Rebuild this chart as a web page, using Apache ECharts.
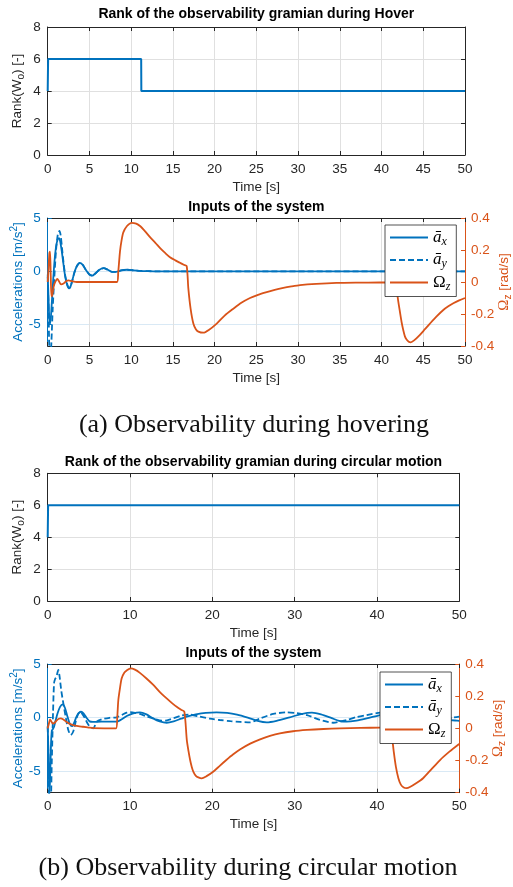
<!DOCTYPE html>
<html>
<head>
<meta charset="utf-8">
<script src="https://cdn.jsdelivr.net/npm/echarts@6/dist/echarts.min.js"></script>
<style>
html,body{margin:0;padding:0;background:#fff;}
#chart{width:513px;height:887px;}
</style>
</head>
<body>
<div id="chart"></div>
<script>
// ---- data: [time s, value] ----
const rankHover = [[0, 4], [0.05, 6], [11.2, 6], [11.22, 4], [50, 4]];
const rankCircle = [[0, 4], [0.05, 6], [50, 6]];

const hoverAx = [[0, -0.3], [0.1, -2.5], [0.2, -4.6], [0.3, -4.9], [0.45, -3.5], [0.6, -1.5], [0.8, 0.8], [1.0, 2.3], [1.2, 3.0], [1.35, 3.1], [1.5, 2.8], [1.7, 1.8], [1.9, 0.6], [2.1, -0.5], [2.3, -1.2], [2.55, -1.6], [2.7, -1.5], [2.9, -1.0], [3.2, -0.1], [3.5, 0.5], [3.85, 0.8], [4.2, 0.6], [4.6, 0.1], [5.0, -0.3], [5.35, -0.4], [5.7, -0.2], [6.2, 0.15], [6.7, 0.3], [7.2, 0.15], [7.7, -0.05], [8.2, -0.05], [8.8, 0.1], [9.5, 0.15], [10.2, 0.1], [11, 0.05], [12, 0.02], [13, 0], [50, 0]];
const hoverAy = [[0, -0.5], [0.1, -3.5], [0.2, -7.5], [0.32, -8.5], [0.45, -6.5], [0.6, -3.5], [0.8, -0.5], [1.0, 2.0], [1.2, 3.4], [1.4, 3.8], [1.55, 3.4], [1.7, 2.3], [1.9, 0.8], [2.1, -0.4], [2.3, -1.1], [2.5, -1.5], [2.7, -1.45], [2.9, -1.0], [3.2, -0.1], [3.5, 0.5], [3.85, 0.8], [4.2, 0.6], [4.6, 0.1], [5.0, -0.3], [5.35, -0.4], [5.7, -0.2], [6.2, 0.15], [6.7, 0.3], [7.2, 0.15], [7.7, -0.05], [8.2, -0.05], [8.8, 0.1], [9.5, 0.15], [10.2, 0.1], [11, 0.05], [12, 0.02], [13, 0], [50, 0]];
const hoverOmega = [[0, 0.0], [0.1, 0.08], [0.2, 0.18], [0.28, 0.19], [0.36, 0.05], [0.45, -0.09], [0.55, -0.08], [0.75, -0.02], [1.0, 0.01], [1.15, 0.02], [1.35, 0.005], [1.6, -0.015], [1.9, -0.01], [2.2, 0.005], [2.5, 0.01], [2.9, 0.005], [3.5, 0.0], [5, 0.0], [8.3, 0.0], [8.45, 0.06], [8.66, 0.19], [8.85, 0.26], [9.06, 0.31], [9.5, 0.35], [10.06, 0.37], [10.6, 0.365], [11.06, 0.35], [11.7, 0.315], [12.26, 0.28], [12.9, 0.245], [13.5, 0.21], [14.1, 0.18], [14.65, 0.155], [15.3, 0.135], [15.85, 0.12], [16.3, 0.108], [16.65, 0.10], [16.85, -0.04], [17.13, -0.17], [17.45, -0.26], [17.75, -0.295], [18.05, -0.31], [18.65, -0.317], [19.3, -0.3], [20.25, -0.26], [21.2, -0.21], [22.24, -0.167], [23.2, -0.13], [24.24, -0.1], [25.2, -0.08], [26.24, -0.063], [27.2, -0.049], [28.23, -0.037], [29.2, -0.028], [30.23, -0.02], [32.2, -0.012], [34.6, -0.006], [37, -0.004], [39.8, -0.003], [41.7, -0.003], [41.85, -0.06], [42.0, -0.12], [42.2, -0.186], [42.4, -0.25], [42.6, -0.3], [42.8, -0.34], [43.0, -0.36], [43.25, -0.373], [43.5, -0.377], [43.9, -0.365], [44.6, -0.33], [45.2, -0.295], [45.8, -0.26], [46.6, -0.215], [47.4, -0.175], [48.0, -0.152], [48.6, -0.133], [49.3, -0.115], [50, -0.1]];

const circAx = [[0, -0.8], [0.1, -3.5], [0.2, -7.4], [0.3, -5.5], [0.4, -2.5], [0.5, -1.2], [0.6, -1.1], [0.75, -0.9], [0.95, -0.3], [1.2, 0.4], [1.5, 1.0], [1.82, 1.24], [2.1, 0.9], [2.4, 0.1], [2.7, -0.6], [2.95, -0.8], [3.2, -0.5], [3.5, 0.1], [3.8, 0.45], [4.05, 0.55], [4.35, 0.4], [4.7, 0.0], [5.1, -0.35], [5.5, -0.4], [6.5, -0.38], [8.3, -0.38], [8.6, -0.32], [9.0, -0.15], [9.6, 0.15], [10.3, 0.38], [11.2, 0.49], [12.0, 0.3], [12.8, -0.07], [13.6, -0.35], [14.45, -0.48], [15.3, -0.35], [16.2, -0.1], [17.0, 0.12], [18.0, 0.3], [19.2, 0.44], [20.5, 0.49], [21.8, 0.44], [23.0, 0.28], [24.3, 0.0], [25.5, -0.3], [26.6, -0.44], [27.8, -0.3], [29.4, 0.03], [30.8, 0.33], [32.1, 0.46], [33.2, 0.3], [34.5, -0.05], [35.4, -0.3], [36.3, -0.38], [37.5, -0.28], [38.75, -0.07], [40.4, 0.24], [41.5, 0.4], [42.5, 0.45], [43.8, 0.35], [45.2, 0.1], [46.6, -0.1], [48.2, -0.2], [49.5, -0.27], [50, -0.3]];
const circAy = [[0, -0.85], [0.1, -4], [0.2, -8], [0.35, -8], [0.5, -4], [0.65, 0.5], [0.77, 3.2], [0.9, 3.6], [1.05, 3.8], [1.29, 4.44], [1.45, 3.8], [1.65, 2.5], [1.9, 1.33], [2.2, 0.0], [2.5, -1.16], [2.8, -1.62], [3.1, -1.3], [3.45, -0.22], [3.7, 0.35], [3.92, 0.55], [4.2, 0.35], [4.53, -0.07], [4.85, -0.55], [5.14, -0.85], [5.54, -1.0], [5.95, -0.38], [6.56, -0.16], [7.5, -0.02], [8.38, 0.03], [9.0, 0.25], [9.6, 0.46], [10.0, 0.5], [10.6, 0.45], [11.2, 0.34], [12.0, 0.12], [12.8, -0.07], [13.85, -0.29], [14.5, -0.25], [15.26, -0.07], [16.2, 0.18], [17.2, 0.28], [18.5, 0.09], [19.7, -0.1], [20.9, -0.22], [22.2, -0.33], [23.4, -0.4], [24.6, -0.44], [25.8, -0.07], [27.4, 0.34], [29.0, 0.49], [30.3, 0.42], [31.5, 0.24], [33.1, -0.22], [34.7, -0.48], [36.3, -0.22], [37.5, 0.05], [38.75, 0.24], [40.4, 0.46], [41.2, 0.5], [42.5, 0.4], [44, 0.0], [45.5, -0.4], [46.8, -0.45], [48.2, -0.2], [49.2, 0.0], [50, 0.1]];
const circOmega = [[0, 0.0], [0.15, 0.03], [0.28, 0.056], [0.42, 0.045], [0.6, 0.03], [0.85, 0.035], [1.1, 0.05], [1.35, 0.06], [1.58, 0.062], [1.9, 0.055], [2.3, 0.04], [2.7, 0.028], [3.1, 0.02], [3.7, 0.014], [4.3, 0.01], [5.0, 0.005], [5.5, 0.002], [8.3, 0.0], [8.45, 0.07], [8.58, 0.176], [8.78, 0.25], [8.98, 0.31], [9.3, 0.345], [9.6, 0.36], [10.08, 0.373], [10.6, 0.365], [11.2, 0.345], [12.0, 0.31], [12.83, 0.27], [13.6, 0.227], [14.45, 0.186], [15.1, 0.157], [15.67, 0.134], [16.2, 0.116], [16.6, 0.103], [16.9, -0.073], [17.1, -0.14], [17.3, -0.197], [17.5, -0.24], [17.7, -0.27], [18.0, -0.295], [18.3, -0.305], [18.7, -0.311], [19.3, -0.297], [20.1, -0.27], [20.9, -0.233], [21.7, -0.197], [22.5, -0.163], [23.4, -0.13], [24.6, -0.095], [25.8, -0.068], [27.0, -0.047], [28.2, -0.031], [29.8, -0.018], [31.5, -0.01], [33.5, -0.004], [35.5, 0.0], [38, 0.003], [40.4, 0.004], [41.7, 0.004], [41.85, -0.06], [42.05, -0.15], [42.3, -0.24], [42.6, -0.31], [42.9, -0.35], [43.25, -0.368], [43.6, -0.372], [44.0, -0.365], [44.8, -0.34], [45.6, -0.31], [46.6, -0.255], [47.66, -0.197], [48.8, -0.145], [49.9, -0.1], [50, -0.097]];

const seriesNames = ['ā_x', 'ā_y', 'Ω_z'];
const titles = [
  'Rank of the observability gramian during Hover',
  'Inputs of the system',
  'Rank of the observability gramian during circular motion',
  'Inputs of the system'
];
const captions = ['(a) Observability during hovering', '(b) Observability during circular motion'];

// ---- styling ----
const BLUE = '#0072BD', ORANGE = '#D95319', INK = '#262626';
const GRID_GRAY = '#e0e0e0', GRID_BLUE = '#d9e9f5';
const SANS = '"Liberation Sans", Arial, Helvetica, sans-serif';
const SERIF = '"Liberation Serif", "Times New Roman", serif';
const FS = 13.5;

const grids = [
  {left: 47.7, top: 27, width: 417.3, height: 128},
  {left: 47.7, top: 218, width: 417.3, height: 128},
  {left: 47.7, top: 473.3, width: 411.6, height: 127.7},
  {left: 47.7, top: 664, width: 411.6, height: 128.7}
].map(g => Object.assign({outerBoundsMode: 'none', containLabel: false}, g));
const xStep = [5, 5, 10, 10];

const xAxes = [];
grids.forEach((g, i) => {
  xAxes.push({
    type: 'value', gridIndex: i, position: 'bottom', min: 0, max: 50, interval: xStep[i],
    axisLine: {onZero: false, lineStyle: {color: INK, width: 1}},
    axisTick: {inside: true, length: 4, lineStyle: {color: INK}},
    axisLabel: {color: INK, fontSize: FS, fontFamily: SANS, margin: 7},
    splitLine: {show: true, lineStyle: {color: GRID_GRAY, width: 1}},
    name: 'Time [s]', nameLocation: 'middle', nameGap: 25, nameMoveOverlap: false,
    nameTextStyle: {color: INK, fontSize: FS, fontFamily: SANS}
  });
  xAxes.push({
    type: 'value', gridIndex: i, position: 'top', min: 0, max: 50, interval: xStep[i],
    axisLine: {onZero: false, lineStyle: {color: INK, width: 1}},
    axisTick: {inside: true, length: 4, lineStyle: {color: INK}},
    axisLabel: {show: false}, splitLine: {show: false}
  });
});

function rankAxes(gi) {
  return [{
    type: 'value', gridIndex: gi, position: 'left', min: 0, max: 8, interval: 2,
    axisLine: {show: true, onZero: false, lineStyle: {color: INK, width: 1}},
    axisTick: {show: true, inside: true, length: 4, lineStyle: {color: INK}},
    axisLabel: {color: INK, fontSize: FS, fontFamily: SANS, margin: 7},
    splitLine: {show: true, lineStyle: {color: GRID_GRAY, width: 1}},
    name: 'Rank(W{sub|o}) [-]', nameLocation: 'middle', nameGap: 21, nameRotate: 90,
    nameMoveOverlap: false,
    nameTextStyle: {color: INK, fontSize: FS, fontFamily: SANS,
      rich: {sub: {color: INK, fontSize: 10, fontFamily: SANS, padding: [8, 0, 0, 0]}}}
  }, {
    type: 'value', gridIndex: gi, position: 'right', min: 0, max: 8, interval: 2,
    axisLine: {show: true, onZero: false, lineStyle: {color: INK, width: 1}},
    axisTick: {show: true, inside: true, length: 4, lineStyle: {color: INK}},
    axisLabel: {show: false}, splitLine: {show: false}
  }];
}
function inputAxes(gi) {
  return [{
    type: 'value', gridIndex: gi, position: 'left', min: -7, max: 5, splitNumber: 2,
    axisLine: {show: true, onZero: false, lineStyle: {color: BLUE, width: 1}},
    axisTick: {show: true, inside: true, length: 4, lineStyle: {color: BLUE}},
    axisLabel: {color: BLUE, fontSize: FS, fontFamily: SANS, margin: 7, showMinLabel: false},
    splitLine: {show: true, lineStyle: {color: GRID_BLUE, width: 1}},
    name: 'Accelerations [m/s{sup|2}]', nameLocation: 'middle', nameGap: 20, nameRotate: 90,
    nameMoveOverlap: false,
    nameTextStyle: {color: BLUE, fontSize: FS, fontFamily: SANS,
      rich: {sup: {color: BLUE, fontSize: 10, fontFamily: SANS, padding: [0, 0, 8, 0]}}}
  }, {
    type: 'value', gridIndex: gi, position: 'right', min: -0.4, max: 0.4, interval: 0.2,
    axisLine: {show: true, onZero: false, lineStyle: {color: ORANGE, width: 1}},
    axisTick: {show: true, inside: true, length: 4, lineStyle: {color: ORANGE}},
    axisLabel: {color: ORANGE, fontSize: FS, fontFamily: SANS, margin: 6},
    splitLine: {show: false},
    name: '{om|Ω}{sub|z} [rad/s]', nameLocation: 'middle', nameGap: 30, nameRotate: 90,
    nameMoveOverlap: false,
    nameTextStyle: {color: ORANGE, fontSize: FS, fontFamily: SANS,
      rich: {
        om: {color: ORANGE, fontSize: 15, fontFamily: SERIF},
        sub: {color: ORANGE, fontSize: 10, fontFamily: SANS, padding: [8, 0, 0, 0]}
      }}
  }];
}
const yAxes = [].concat(rankAxes(0), inputAxes(1), rankAxes(2), inputAxes(3));

function line(data, xi, yi, color, opts) {
  return Object.assign({
    type: 'line', xAxisIndex: xi, yAxisIndex: yi, data: data, symbol: 'none',
    showSymbol: false, color: color, smooth: 0.25, clip: true,
    lineStyle: {color: color, width: 1.8}
  }, opts || {});
}

const series = [
  line(rankHover, 0, 0, BLUE, {smooth: false, lineStyle: {color: BLUE, width: 2}}),
  line(hoverAx, 2, 2, BLUE, {name: seriesNames[0]}),
  line(hoverAy, 2, 2, BLUE, {name: seriesNames[1], lineStyle: {color: BLUE, width: 1.8, type: [6, 3]}}),
  line(hoverOmega, 2, 3, ORANGE, {name: seriesNames[2]}),
  line(rankCircle, 4, 4, BLUE, {smooth: false, lineStyle: {color: BLUE, width: 2}}),
  line(circAx, 6, 6, BLUE, {name: seriesNames[0]}),
  line(circAy, 6, 6, BLUE, {name: seriesNames[1], lineStyle: {color: BLUE, width: 1.8, type: [6, 3]}}),
  line(circOmega, 6, 7, ORANGE, {name: seriesNames[2]})
];

const legendText = {
  'ā_x': '{m|ā}{s|x}',
  'ā_y': '{m|ā}{s|y}',
  'Ω_z': '{o|Ω}{s|z}'
};
function legendAt(left, top) {
  return {
    data: seriesNames, orient: 'vertical', left: left, top: top,
    itemWidth: 38, itemHeight: 14, itemGap: 4, selectedMode: false,
    padding: [4, 6, 4, 4], backgroundColor: '#fff',
    borderColor: INK, borderWidth: 0.8, borderRadius: 0,
    itemStyle: {color: 'rgba(0,0,0,0)', borderWidth: 0, opacity: 0},
    formatter: n => legendText[n],
    textStyle: {
      color: '#000', fontSize: 16, fontFamily: SERIF,
      rich: {
        m: {fontSize: 17, fontFamily: SERIF, fontStyle: 'italic', color: '#000'},
        o: {fontSize: 17, fontFamily: SERIF, color: '#000'},
        s: {fontSize: 12, fontFamily: SERIF, fontStyle: 'italic', color: '#000', padding: [8, 0, 0, 0]}
      }
    }
  };
}

const titleCenters = [256.3, 256.3, 253.5, 253.5];
const titleTops = [7, 200, 455, 646];

const option = {
  animation: false,
  backgroundColor: '#fff',
  title: titles.map((t, i) => ({
    text: t, left: titleCenters[i], top: titleTops[i], textAlign: 'center', padding: 0,
    textStyle: {fontSize: 14, fontWeight: 'bold', color: '#000', fontFamily: SANS}
  })),
  grid: grids,
  xAxis: xAxes,
  yAxis: yAxes,
  legend: [legendAt(385, 225), legendAt(380, 672)],
  series: series,
  graphic: [
    {type: 'text', x: 254, y: 425, style: {text: captions[0], fontSize: 26, fontFamily: SERIF, fill: '#111', align: 'center', verticalAlign: 'middle'}},
    {type: 'text', x: 248, y: 868, style: {text: captions[1], fontSize: 26, fontFamily: SERIF, fill: '#111', align: 'center', verticalAlign: 'middle'}}
  ]
};

const chart = echarts.init(document.getElementById('chart'), null, {renderer: 'canvas'});
chart.setOption(option);
</script>
</body>
</html>
